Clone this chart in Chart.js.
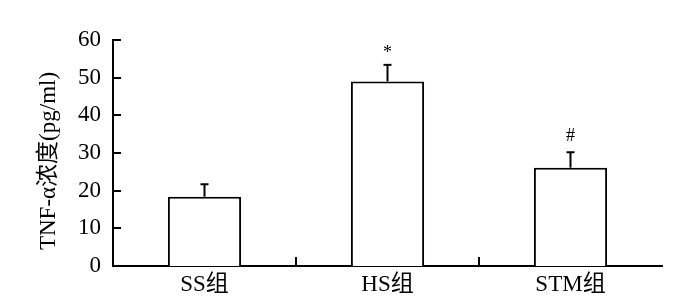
<!DOCTYPE html>
<html>
<head>
<meta charset="utf-8">
<script src="https://cdn.jsdelivr.net/npm/chart.js@4/dist/chart.umd.min.js"></script>
<style>
  html, body { margin: 0; padding: 0; background: #fff; }
  #wrap { width: 700px; height: 304px; }
</style>
</head>
<body>
<div id="wrap"><canvas id="c" width="700" height="304"></canvas></div>
<script>
const categories = ["SS组", "HS组", "STM组"];
const means = [18.4, 49.0, 26.1];
const errors = [3.3, 4.4, 4.1];
const marks = ["", "*", "#"];
const yTicks = [0, 10, 20, 30, 40, 50, 60];
const yTitle = "TNF-α浓度(pg/ml)";

const FONT = '"Liberation Serif", "Times New Roman", "Noto Sans CJK SC", serif';

const decorPlugin = {
  id: 'decor',
  afterDatasetsDraw(chart) {
    const ctx = chart.ctx;
    const x = chart.scales.x, y = chart.scales.y;
    const ca = chart.chartArea;
    ctx.save();
    ctx.strokeStyle = '#000';
    ctx.lineWidth = 2;
    // y ticks, pointing inside
    yTicks.forEach(v => {
      const py = Math.round(y.getPixelForValue(v));
      ctx.beginPath();
      ctx.moveTo(ca.left, py);
      ctx.lineTo(ca.left + 8, py);
      ctx.stroke();
    });
    // x ticks at category boundaries, pointing up
    for (let i = 0; i < categories.length - 1; i++) {
      const px = Math.round((x.getPixelForValue(i) + x.getPixelForValue(i + 1)) / 2);
      ctx.beginPath();
      ctx.moveTo(px, ca.bottom);
      ctx.lineTo(px, ca.bottom - 9);
      ctx.stroke();
    }
    // error bars and significance marks
    const meta = chart.getDatasetMeta(0);
    meta.data.forEach((bar, i) => {
      const top = y.getPixelForValue(means[i]);
      const et = y.getPixelForValue(means[i] + errors[i]);
      ctx.lineWidth = 2;
      ctx.beginPath();
      ctx.moveTo(bar.x, top);
      ctx.lineTo(bar.x, et);
      ctx.stroke();
      ctx.beginPath();
      ctx.moveTo(bar.x - 4, et);
      ctx.lineTo(bar.x + 4, et);
      ctx.stroke();
      if (marks[i]) {
        ctx.fillStyle = '#000';
        ctx.textAlign = 'center';
        ctx.textBaseline = 'middle';
        ctx.font = '18px ' + FONT;
        ctx.fillText(marks[i], bar.x, et - (marks[i] === '*' ? 12 : 16));
      }
    });
    // y-axis title
    ctx.save();
    ctx.translate(49, (ca.top + ca.bottom) / 2 + 8);
    ctx.rotate(-Math.PI / 2);
    ctx.fillStyle = '#000';
    ctx.textAlign = 'center';
    ctx.textBaseline = 'middle';
    ctx.font = '23px ' + FONT;
    ctx.fillText(yTitle, 0, 0);
    ctx.restore();
    ctx.restore();
  }
};

new Chart(document.getElementById('c'), {
  type: 'bar',
  data: {
    labels: categories,
    datasets: [{
      data: means,
      backgroundColor: '#ffffff',
      borderColor: '#000000',
      borderWidth: 2,
      borderSkipped: 'bottom',
      categoryPercentage: 1.0,
      barPercentage: 0.4
    }]
  },
  options: {
    responsive: false,
    animation: false,
    devicePixelRatio: 1,
    layout: { padding: { left: 0, right: 38, top: 40, bottom: 0 } },
    plugins: { legend: { display: false }, tooltip: { enabled: false } },
    scales: {
      x: {
        offset: true,
        grid: { display: false, drawTicks: false },
        border: { display: true, color: '#000', width: 2 },
        ticks: { color: '#000', font: { family: FONT, size: 23 }, padding: 5, maxRotation: 0 },
        afterFit(s) { s.height = 38; }
      },
      y: {
        min: 0, max: 60,
        grid: { display: false, drawTicks: false },
        border: { display: true, color: '#000', width: 2 },
        ticks: { stepSize: 10, color: '#000', font: { family: FONT, size: 23 }, padding: 12 },
        title: { display: false, text: yTitle },
        afterFit(s) { s.width = 113; }
      }
    }
  },
  plugins: [decorPlugin]
});
</script>
</body>
</html>
